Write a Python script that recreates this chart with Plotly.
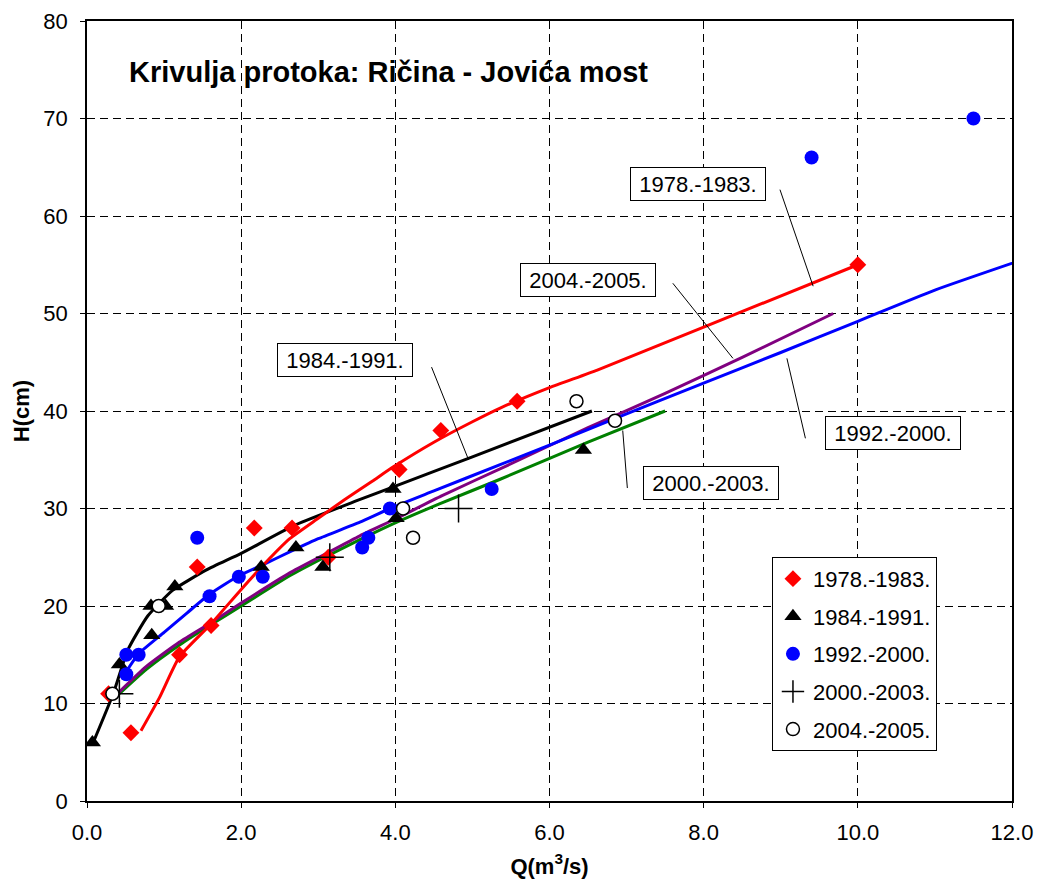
import plotly.graph_objects as go

# Measured points (Q in m3/s, H in cm), one pair of lists per period
q_1978_1983 = [0.28, 0.57, 1.20, 1.43, 1.61, 2.17, 2.66, 3.13, 4.05, 4.59, 5.58, 10.00]
h_1978_1983 = [11, 7, 15, 24, 18, 28, 28, 25, 34, 38, 41, 55]

q_1984_1991 = [0.07, 0.42, 0.84, 0.83, 1.02, 1.14, 2.26, 2.71, 3.06, 3.97, 4.01, 6.44]
h_1984_1991 = [6, 14, 17, 20, 20, 22, 24, 26, 24, 32, 29, 36]

q_1992_2000 = [0.51, 0.51, 0.67, 1.43, 1.59, 1.97, 2.28, 3.57, 3.65, 3.93, 5.25, 9.40, 11.50]
h_1992_2000 = [13, 15, 15, 27, 21, 23, 23, 26, 27, 30, 32, 66, 70]

q_2000_2003 = [0.42, 3.15, 4.82]
h_2000_2003 = [11, 25, 30]

q_2004_2005 = [0.33, 0.93, 4.10, 4.23, 6.35, 6.85]
h_2004_2005 = [11, 20, 30, 27, 41, 39]

# Rating curves Q-H for each period
rc_q_1978_1983 = [0.70, 0.94, 1.20, 1.59, 2.00, 2.30, 2.63, 3.00, 3.34, 3.70, 3.98,
                  4.50, 5.00, 5.36, 6.00, 6.62, 8.00, 10.00]
rc_h_1978_1983 = [7.2, 10.6, 14.8, 18.0, 21.7, 24.3, 26.9, 29.0, 30.9, 32.8, 34.3,
                  36.8, 38.9, 40.3, 42.4, 44.2, 48.6, 55.0]

rc_q_1984_1991 = [0.07, 0.34, 0.53, 0.79, 1.11, 1.55, 2.00, 2.67, 3.50, 4.00, 5.00, 6.55]
rc_h_1984_1991 = [5.8, 11.0, 15.5, 19.0, 21.6, 23.7, 25.4, 28.2, 30.8, 32.3, 35.3, 40.0]

rc_q_1992_2000 = [0.47, 0.67, 1.00, 1.30, 1.59, 1.97, 2.30, 2.67, 3.00, 3.54, 3.93,
                  4.50, 5.36, 6.00, 6.87, 7.95, 9.00, 10.00, 11.00, 12.24]
rc_h_1992_2000 = [12.8, 15.1, 17.3, 19.3, 21.2, 23.1, 24.3, 25.7, 26.9, 28.6, 30.0,
                  31.8, 34.5, 36.5, 39.3, 42.7, 46.0, 49.2, 52.4, 55.8]

rc_q_2000_2003 = [0.42, 0.77, 1.20, 1.59, 2.00, 2.63, 3.06, 3.54, 4.02, 4.58, 5.36, 6.50, 7.50]
rc_h_2000_2003 = [11.0, 13.5, 16.0, 18.0, 20.0, 23.1, 24.9, 26.8, 28.6, 30.5, 33.0, 36.8, 40.0]

rc_q_2004_2005 = [0.42, 0.77, 1.20, 1.59, 2.00, 2.63, 3.06, 3.54, 4.02, 4.60, 5.45,
                  6.50, 7.50, 8.50, 9.68]
rc_h_2004_2005 = [11.2, 13.8, 16.3, 18.2, 20.3, 23.4, 25.2, 27.2, 29.0, 31.3, 34.4,
                  38.3, 41.8, 45.5, 50.0]

periods = ["1978.-1983.", "1984.-1991.", "1992.-2000.", "2000.-2003.", "2004.-2005."]

FONT = "Liberation Sans, Arial, sans-serif"
RED, BLACK, BLUE, GREEN, PURPLE = "#FF0000", "#000000", "#0000FF", "#008000", "#800080"

fig = go.Figure()

# Curves (drawn first, markers on top)
curves = [
    (rc_q_2000_2003, rc_h_2000_2003, GREEN),
    (rc_q_2004_2005, rc_h_2004_2005, PURPLE),
    (rc_q_1992_2000, rc_h_1992_2000, BLUE),
    (rc_q_1984_1991, rc_h_1984_1991, BLACK),
    (rc_q_1978_1983, rc_h_1978_1983, RED),
]
for cq, ch, col in curves:
    fig.add_trace(go.Scatter(
        x=cq, y=ch, mode="lines", showlegend=False, hoverinfo="skip",
        line=dict(color=col, width=3, shape="spline", smoothing=0.5),
    ))

# Measured points
fig.add_trace(go.Scatter(
    x=q_1978_1983, y=h_1978_1983, mode="markers", name=periods[0], legendgroup="a",
    marker=dict(symbol="diamond", size=13, color=RED),
))
fig.add_trace(go.Scatter(
    x=q_1984_1991, y=h_1984_1991, mode="markers", name=periods[1], legendgroup="b",
    marker=dict(symbol="triangle-up", size=15, color=BLACK),
))
fig.add_trace(go.Scatter(
    x=q_1992_2000, y=h_1992_2000, mode="markers", name=periods[2], legendgroup="c",
    marker=dict(symbol="circle", size=14, color=BLUE),
))
fig.add_trace(go.Scatter(
    x=q_2000_2003, y=h_2000_2003, mode="markers", name=periods[3], legendgroup="d",
    marker=dict(symbol="cross-thin", size=20, color=BLACK,
                line=dict(color=BLACK, width=1.5)),
))
fig.add_trace(go.Scatter(
    x=q_2004_2005, y=h_2004_2005, mode="markers", name=periods[4], legendgroup="e",
    marker=dict(symbol="circle", size=13, color="white",
                line=dict(color=BLACK, width=1.5)),
))

# Boxed curve labels with leader lines (box centre, leader start, leader end)
labels = [
    (periods[0], 7.92, 63.3, (8.99, 62.7), (9.42, 52.8)),
    (periods[4], 6.50, 53.4, (7.60, 53.1), (8.38, 45.4)),
    (periods[1], 3.35, 45.2, (4.47, 44.5), (4.95, 35.0)),
    (periods[2], 10.46, 37.7, (9.32, 37.2), (9.08, 45.4)),
    (periods[3], 8.09, 32.6, (7.01, 32.1), (6.95, 38.0)),
]
for text, bx, by, p0, p1 in labels:
    fig.add_shape(type="line", xref="x", yref="y", x0=p0[0], y0=p0[1], x1=p1[0], y1=p1[1],
                  line=dict(color=BLACK, width=1))
    fig.add_annotation(x=bx, y=by, xref="x", yref="y", text=text, showarrow=False,
                       font=dict(family=FONT, size=22, color=BLACK),
                       bgcolor="white", bordercolor=BLACK, borderwidth=1, borderpad=3,
                       width=128, height=26, xanchor="center", yanchor="middle")

fig.add_annotation(x=0.043, y=0.9346, xref="paper", yref="paper",
                   text="<b>Krivulja protoka: Ričina - Jovića most</b>", showarrow=False,
                   xanchor="left", yanchor="middle",
                   font=dict(family=FONT, size=29, color=BLACK))

axis_common = dict(
    showline=True, linecolor=BLACK, linewidth=1.5, mirror=True,
    ticks="outside", ticklen=5, tickcolor=BLACK, tickwidth=1,
    showgrid=True, gridcolor=BLACK, gridwidth=1, griddash="8px,5px",
    zeroline=False, automargin=False,
    tickfont=dict(family=FONT, size=22, color=BLACK),
)

fig.update_xaxes(range=[0, 12], dtick=2, tickformat=".1f", ticklabelstandoff=6,
                 title=dict(text="<b>Q(m<sup>3</sup>/s)</b>", standoff=14,
                            font=dict(family=FONT, size=22, color=BLACK)),
                 **axis_common)
fig.update_yaxes(range=[0, 80], dtick=10, ticklabelstandoff=8,
                 title=dict(text="<b>H(cm)</b>", standoff=8,
                            font=dict(family=FONT, size=22, color=BLACK)),
                 **axis_common)

fig.update_layout(
    width=1037, height=882,
    margin=dict(l=87, r=25, t=21, b=81),
    paper_bgcolor="white", plot_bgcolor="white",
    font=dict(family=FONT, color=BLACK),
    legend=dict(x=0.7405, y=0.313, xanchor="left", yanchor="top",
                bgcolor="white", bordercolor=BLACK, borderwidth=1,
                font=dict(family=FONT, size=22, color=BLACK),
                traceorder="grouped", tracegroupgap=6),
)

fig.write_html("out.html")
